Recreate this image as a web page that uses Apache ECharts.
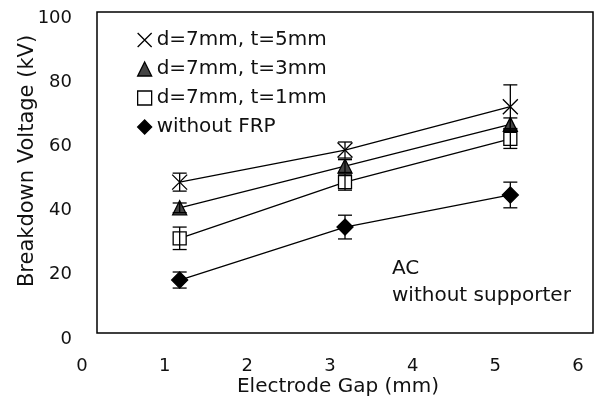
<!DOCTYPE html>
<html>
<head>
<meta charset="utf-8">
<script src="https://cdn.jsdelivr.net/npm/echarts@6/dist/echarts.min.js"></script>
<style>
  html, body { margin: 0; padding: 0; background: #fff; }
</style>
</head>
<body>
<div id="myChart" style="width: 613px; height: 405px;"></div>
<script>
// electrode gap (mm)
var gap = [1, 3, 5];
var xTicks = [0, 1, 2, 3, 4, 5, 6];
var yTicks = [0, 20, 40, 60, 80, 100];

// breakdown voltage (kV) and error bar half-heights
var names = ["d=7mm, t=5mm", "d=7mm, t=3mm", "d=7mm, t=1mm", "without FRP"];
var t5 = [47, 57, 70.5];
var t5Err = [2.8, 2.5, 6.8];
var t3 = [39, 52, 65];
var t3Err = [1.5, 2, 2];
var t1 = [29.5, 47, 60.5];
var t1Err = [3.5, 2.5, 3];
var noFrp = [16.5, 33, 43];
var noFrpErr = [2.5, 3.7, 4];

var FONT = "DejaVu Sans";
var INK = "#111";
var crossPath = "path://M0,0L10,10M10,0L0,10";

function pts(vals) {
  return gap.map(function (g, i) { return [g, vals[i]]; });
}
function errPts(vals, errs) {
  return gap.map(function (g, i) { return [g, vals[i] - errs[i], vals[i] + errs[i]]; });
}

// error bars drawn with a custom series
function errorBars(vals, errs) {
  return {
    type: "custom",
    z: 5,
    silent: true,
    data: errPts(vals, errs),
    encode: { x: 0, y: [1, 2] },
    renderItem: function (params, api) {
      var lo = api.coord([api.value(0), api.value(1)]);
      var hi = api.coord([api.value(0), api.value(2)]);
      var w = 7;
      var st = { stroke: "#000", lineWidth: 1.3 };
      return {
        type: "group",
        children: [
          { type: "line", shape: { x1: lo[0], y1: lo[1], x2: hi[0], y2: hi[1] }, style: st },
          { type: "line", shape: { x1: lo[0] - w, y1: lo[1], x2: lo[0] + w, y2: lo[1] }, style: st },
          { type: "line", shape: { x1: hi[0] - w, y1: hi[1], x2: hi[0] + w, y2: hi[1] }, style: st }
        ]
      };
    }
  };
}

function lineSeries(name, vals, symbol, size, fill) {
  return {
    name: name,
    type: "line",
    data: pts(vals),
    symbol: symbol,
    symbolSize: size,
    symbolKeepAspect: true,
    z: 3,
    lineStyle: { color: "#000", width: 1.3 },
    itemStyle: { color: fill, borderColor: "#000", borderWidth: 1.3 }
  };
}

var myChart = echarts.init(document.getElementById("myChart"));
myChart.setOption({
  animation: false,
  backgroundColor: "#fff",
  grid: {
    left: 97, right: 20, top: 12, bottom: 72,
    show: true, borderColor: "#000", borderWidth: 1.5
  },
  legend: {
    orient: "vertical",
    left: 132, top: 25,
    itemWidth: 14, itemHeight: 14, itemGap: 9,
    selectedMode: false,
    itemStyle: { borderWidth: 1.3 },
    textStyle: { fontFamily: FONT, fontSize: 20, color: INK },
    data: [
      { name: names[0], icon: crossPath },
      { name: names[1], icon: "triangle" },
      { name: names[2], icon: "rect" },
      { name: names[3], icon: "diamond" }
    ]
  },
  xAxis: {
    type: "value",
    min: xTicks[0], max: xTicks[xTicks.length - 1], interval: 1,
    axisLine: { show: false },
    axisTick: { show: false },
    splitLine: { show: false },
    axisLabel: {
      margin: 24, fontFamily: FONT, fontSize: 18, color: INK,
      padding: [0, 30, 0, 0]
    }
  },
  yAxis: {
    type: "value",
    min: yTicks[0], max: yTicks[yTicks.length - 1], interval: 20,
    axisLine: { show: false },
    axisTick: { show: false },
    splitLine: { show: false },
    axisLabel: {
      margin: 25, fontFamily: FONT, fontSize: 18, color: INK,
      verticalAlign: "top", lineHeight: 12
    }
  },
  graphic: [
    {
      type: "text", x: 28, y: 161, rotation: Math.PI / 2,
      style: { text: "Breakdown Voltage (kV)", fontFamily: FONT, fontSize: 21, fill: INK, align: "center", verticalAlign: "middle" }
    },
    {
      type: "text", x: 338, y: 387,
      style: { text: "Electrode Gap (mm)", fontFamily: FONT, fontSize: 20, fill: INK, align: "center", verticalAlign: "middle" }
    },
    {
      type: "text", x: 392, y: 269,
      style: { text: "AC", fontFamily: FONT, fontSize: 20, fill: INK, align: "left", verticalAlign: "middle" }
    },
    {
      type: "text", x: 392, y: 296,
      style: { text: "without supporter", fontFamily: FONT, fontSize: 20, fill: INK, align: "left", verticalAlign: "middle" }
    }
  ],
  series: [
    lineSeries(names[0], t5, crossPath, 15, "#000"),
    lineSeries(names[1], t3, "triangle", 14, "#444"),
    lineSeries(names[2], t1, "rect", 13, "#fff"),
    lineSeries(names[3], noFrp, "diamond", 16, "#000"),
    errorBars(t5, t5Err),
    errorBars(t3, t3Err),
    errorBars(t1, t1Err),
    errorBars(noFrp, noFrpErr)
  ]
});
</script>
</body>
</html>
